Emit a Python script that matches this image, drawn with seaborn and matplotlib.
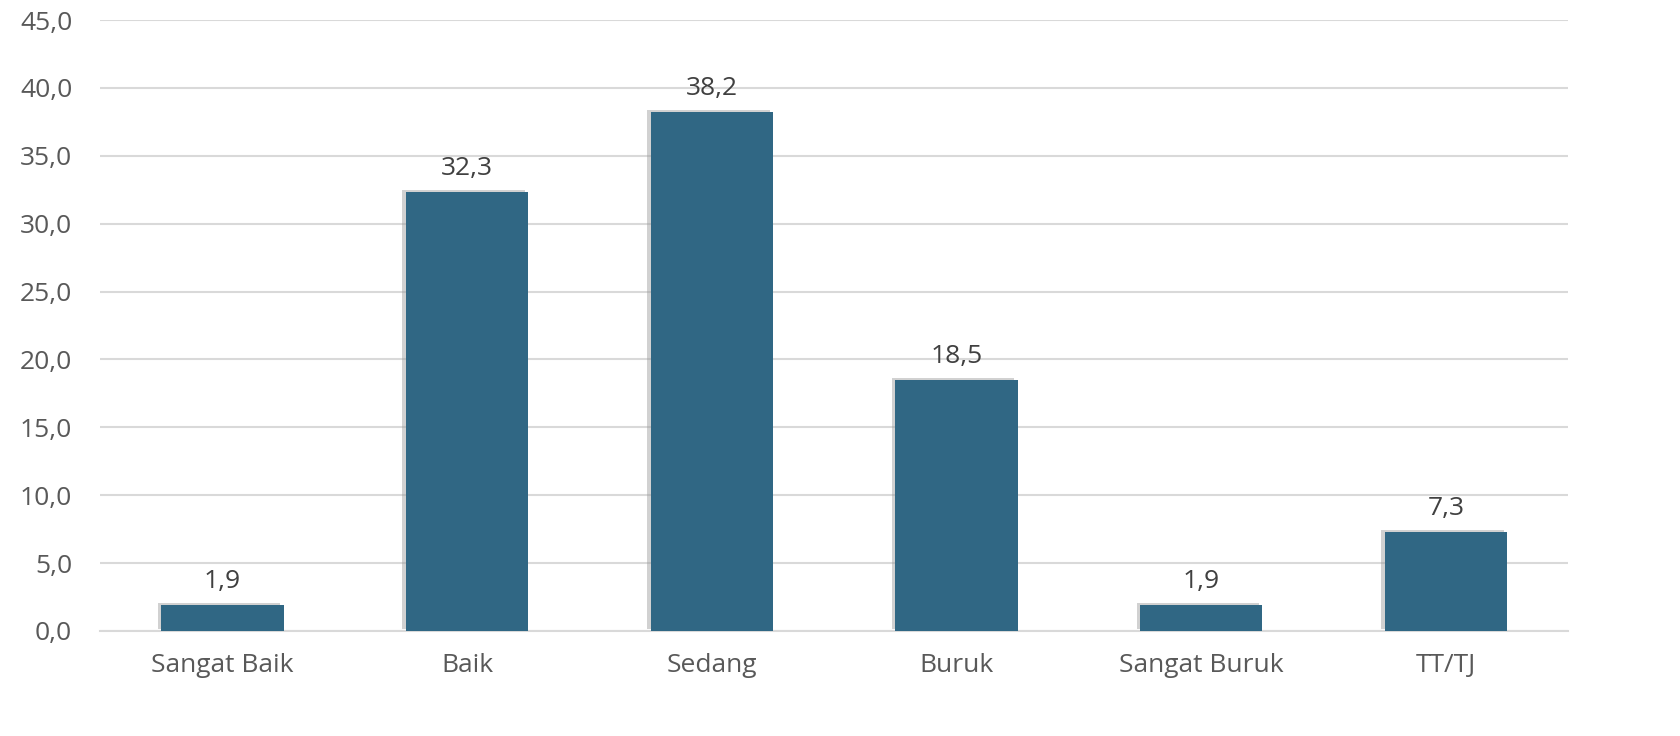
import matplotlib
matplotlib.use("Agg")
import matplotlib.pyplot as plt
import matplotlib.patheffects as pe
import seaborn as sns
import pandas as pd

categories = ["Sangat Baik", "Baik", "Sedang", "Buruk", "Sangat Buruk", "TT/TJ"]
values = [1.9, 32.3, 38.2, 18.5, 1.9, 7.3]
y_ticks = [0, 5, 10, 15, 20, 25, 30, 35, 40, 45]

sns.set_style("white")
plt.rcParams['font.family'] = ['Open Sans', 'DejaVu Sans']

df = pd.DataFrame({"cat": categories, "val": values})

fig = plt.figure(figsize=(16.81, 7.36), dpi=100)
ax = fig.add_axes([0.0595, 0.1427, 0.8735, 0.8301])

sns.barplot(data=df, x="cat", y="val", color="#306784", saturation=1, width=0.5, ax=ax)

for p in ax.patches:
    p.set_edgecolor("none")
    p.set_path_effects([pe.SimplePatchShadow(offset=(-2.5, 1.5), shadow_rgbFace="#9a9a9a", alpha=0.45),
                        pe.Normal()])
    p.set_zorder(3)

for i, v in enumerate(values):
    ax.annotate(f"{v:.1f}".replace(".", ","), (i, v), xytext=(0, 8), textcoords="offset points",
                ha="center", va="bottom", fontsize=19, color="#404040")

ax.set_ylim(0, 45)
ax.set_xlim(-0.5, 5.5)
ax.set_yticks(y_ticks)
ax.set_yticklabels([f"{t:.1f}".replace(".", ",") for t in y_ticks])
ax.yaxis.grid(True, color="#d9d9d9", linewidth=1.5)
ax.set_axisbelow(True)
for s in ["top", "right", "left"]:
    ax.spines[s].set_visible(False)
ax.spines["bottom"].set_color("#d9d9d9")
ax.spines["bottom"].set_linewidth(1.5)
ax.tick_params(axis="both", length=0, labelsize=19, colors="#595959")
ax.tick_params(axis="x", pad=16)
ax.tick_params(axis="y", pad=20)
ax.set_xlabel("")
ax.set_ylabel("")

fig.savefig("out.png", dpi=100)
